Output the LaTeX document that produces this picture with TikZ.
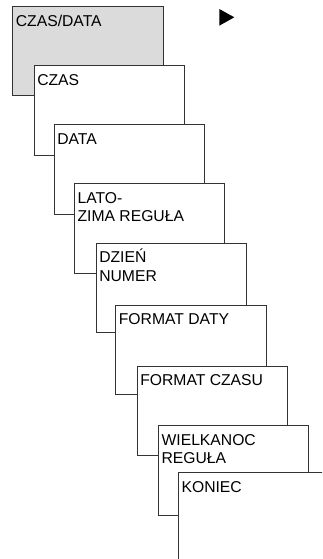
\documentclass[tikz,border=0pt]{standalone}
\usepackage{fontspec}
\setmainfont{Liberation Sans}
\begin{document}
\begin{tikzpicture}[x=1pt,y=-1pt,
  menubox/.style={draw=black!80,line width=0.9pt,fill=white,rectangle,inner sep=0pt,
    minimum width=150.4pt,minimum height=89.5pt,anchor=north west},
  rootbox/.style={menubox,fill=black!14},
  caption/.style={anchor=north west,inner sep=0pt,align=left,
    font=\fontsize{15.7}{18.3}\selectfont}]
\useasboundingbox (0,0) rectangle (322,559);
\clip (0,0) rectangle (322,559);
% cascade of menu screens, each one laid over the previous
\node[rootbox] (m1) at (12.3,6) {};
\node[menubox] (m2) at (33.7,65) {};
\node[menubox] (m3) at (53.7,124) {};
\node[menubox] (m4) at (74,183.3) {};
\node[menubox] (m5) at (95.7,242.7) {};
\node[menubox] (m6) at (115.3,304.7) {};
\node[menubox] (m7) at (136.7,365.7) {};
\node[menubox] (m8) at (158,425.3) {};
\node[menubox,minimum width=170pt,minimum height=110pt] (m9) at (178,472) {};
% screen titles
\node[caption] (t1) at ([xshift=3.4pt,yshift=-5pt]m1.north west) {\rule{0pt}{15pt}CZAS/DATA};
\node[caption] (t2) at ([xshift=3.4pt,yshift=-5pt]m2.north west) {\rule{0pt}{15pt}CZAS};
\node[caption] (t3) at ([xshift=3.4pt,yshift=-5pt]m3.north west) {\rule{0pt}{15pt}DATA};
\node[caption] (t4) at ([xshift=3.4pt,yshift=-5pt]m4.north west) {\rule{0pt}{15pt}LATO-\\ZIMA REGUŁA};
\node[caption] (t5) at ([xshift=3.4pt,yshift=-5pt]m5.north west) {\rule{0pt}{15pt}DZIEŃ\\NUMER};
\node[caption] (t6) at ([xshift=3.4pt,yshift=-5pt]m6.north west) {\rule{0pt}{15pt}FORMAT DATY};
\node[caption] (t7) at ([xshift=3.4pt,yshift=-5pt]m7.north west) {\rule{0pt}{15pt}FORMAT CZASU};
\node[caption] (t8) at ([xshift=3.4pt,yshift=-5pt]m8.north west) {\rule{0pt}{15pt}WIELKANOC\\REGUŁA};
\node[caption] (t9) at ([xshift=3.4pt,yshift=-5pt]m9.north west) {\rule{0pt}{15pt}KONIEC};
% navigation marker
\fill[black] (219.3,9) -- (219.3,25.7) -- (234.3,17.3) -- cycle;
\end{tikzpicture}
\end{document}
